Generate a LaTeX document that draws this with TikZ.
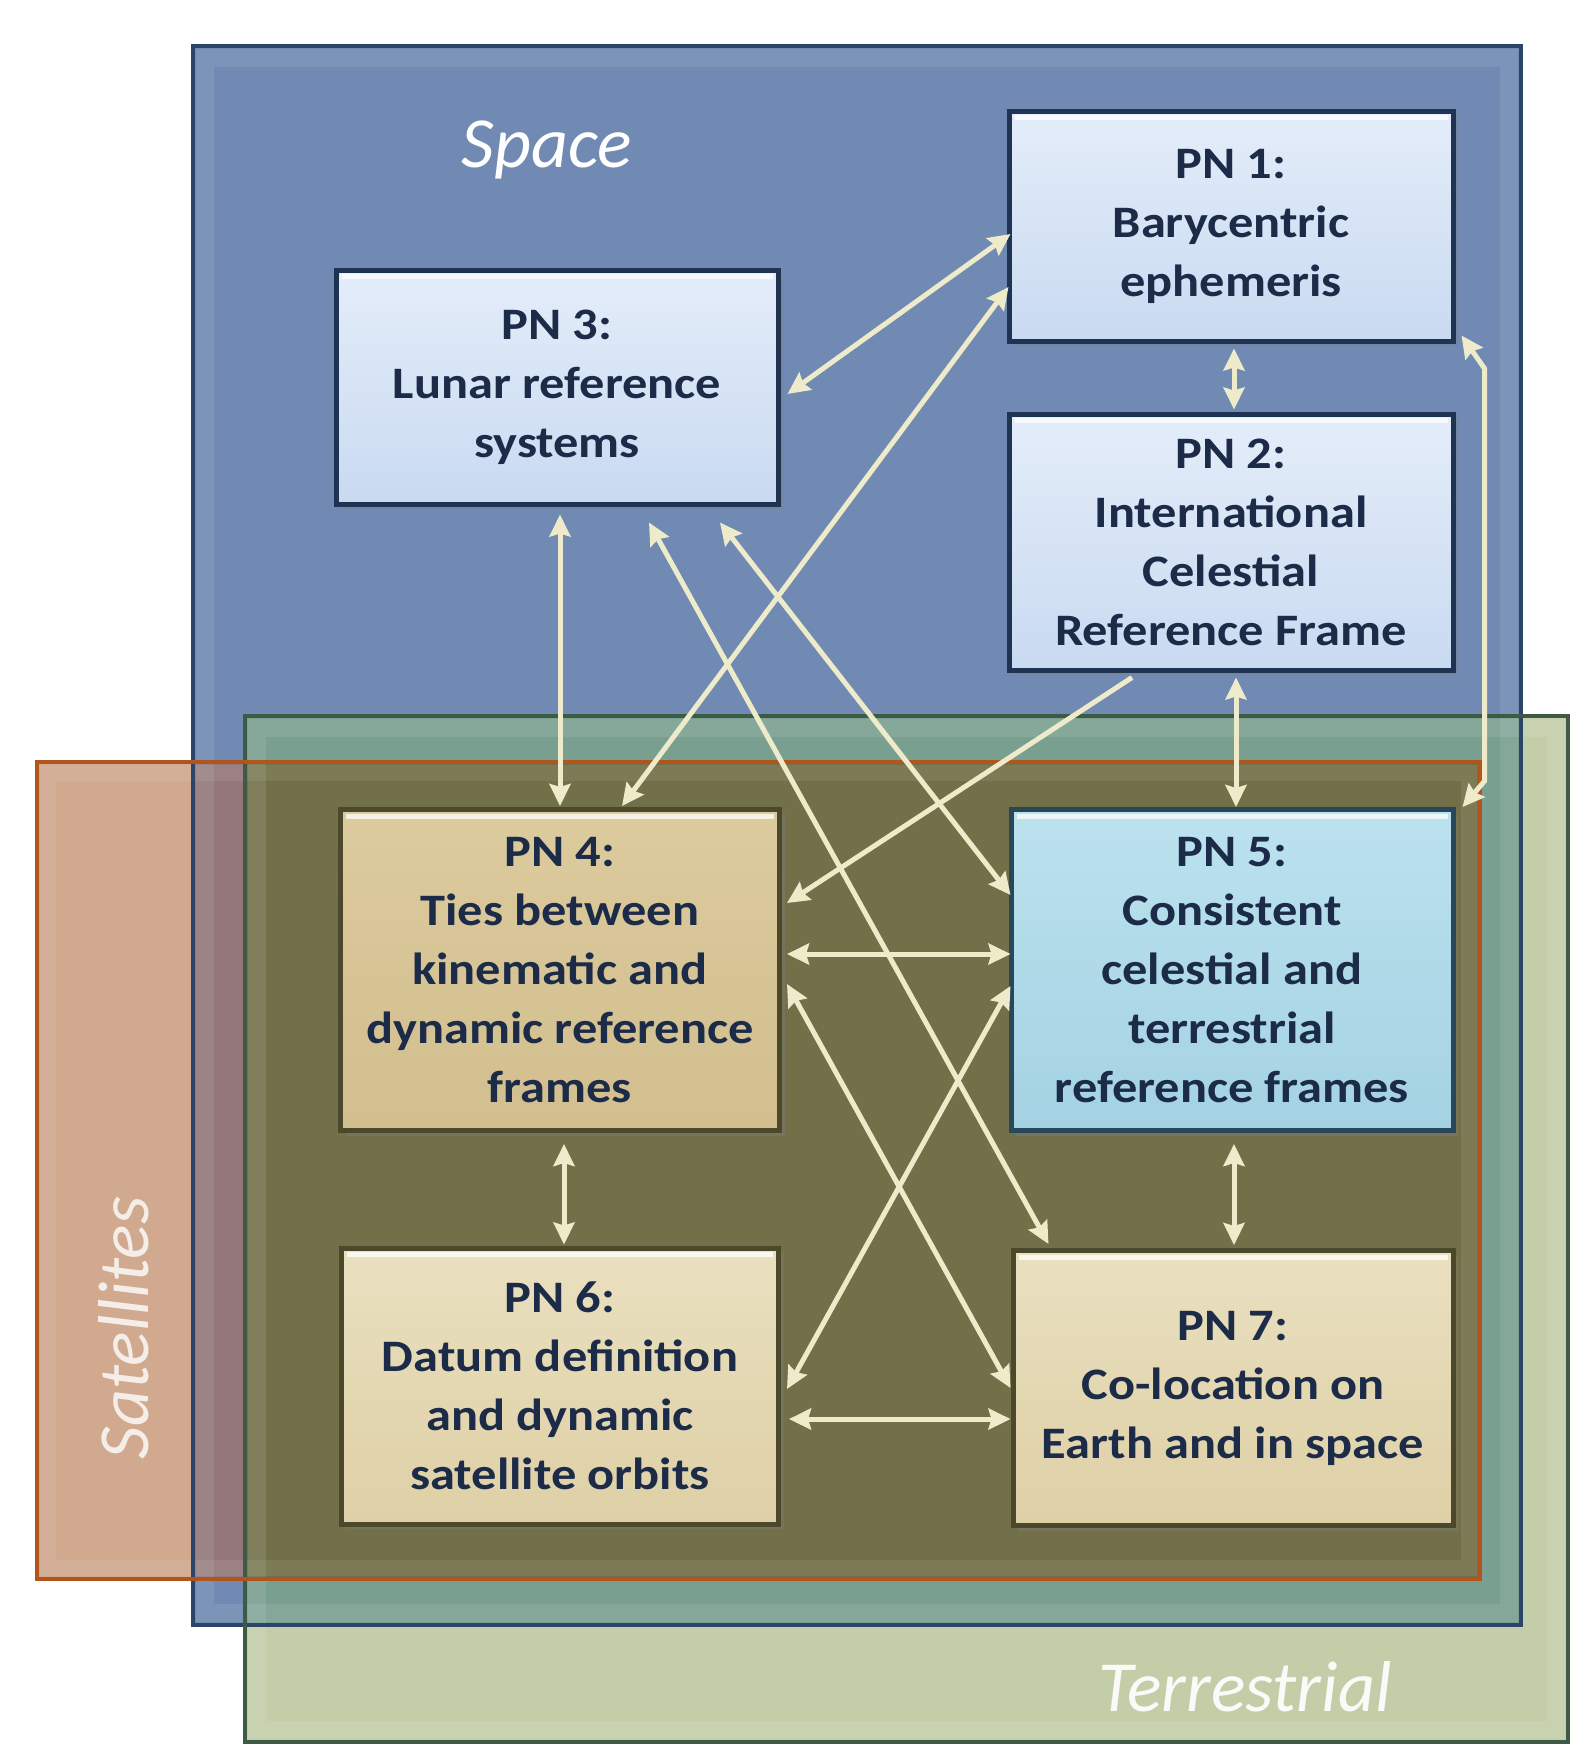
\documentclass[tikz,border=0pt]{standalone}
\usepackage{fontspec}
\setmainfont{Carlito}
\newfontfamily\pnfont{Carlito}[FakeStretch=1.12]
\usetikzlibrary{arrows.meta,shadows}
\definecolor{spaceblue}{HTML}{718AB3}
\definecolor{spaceedge}{HTML}{2B4468}
\definecolor{terrlight}{HTML}{C3CDA8}
\definecolor{terredge}{HTML}{3E5A44}
\definecolor{spaceterr}{HTML}{789F90}
\definecolor{sattan}{HTML}{D0A98F}
\definecolor{satedge}{HTML}{B0561C}
\definecolor{satspace}{HTML}{93777A}
\definecolor{oliveall}{HTML}{727048}
\definecolor{blueboxtop}{HTML}{E4EDFA}
\definecolor{blueboxbot}{HTML}{C9DAF0}
\definecolor{blueboxedge}{HTML}{1F3452}
\definecolor{tantop}{HTML}{DCCB9E}
\definecolor{tanbot}{HTML}{D2BE8E}
\definecolor{tanlighttop}{HTML}{EAE0C0}
\definecolor{tanlightbot}{HTML}{DED0A6}
\definecolor{tanedge}{HTML}{4B482B}
\definecolor{cyantop}{HTML}{BCE2EE}
\definecolor{cyanbot}{HTML}{A4D2E2}
\definecolor{cyanedge}{HTML}{29475A}
\definecolor{textnavy}{HTML}{1B2B48}
\definecolor{arrowcream}{HTML}{EEEBCB}
\tikzset{
  pnbox/.style={line width=5pt, align=center, text=textnavy,
    font=\pnfont\fontsize{45}{59}\selectfont\bfseries, inner sep=0pt,
    drop shadow={shadow xshift=5pt, shadow yshift=-5pt, opacity=.35}},
  bluepn/.style={pnbox, draw=blueboxedge, top color=blueboxtop, bottom color=blueboxbot},
  tanpn/.style={pnbox, draw=tanedge, top color=tantop, bottom color=tanbot},
  tanlightpn/.style={pnbox, draw=tanedge, top color=tanlighttop, bottom color=tanlightbot},
  cyanpn/.style={pnbox, draw=cyanedge, top color=cyantop, bottom color=cyanbot},
  regionlabel/.style={font=\fontsize{72}{80}\selectfont\itshape, inner sep=0pt},
  link/.style={draw=arrowcream, line width=5pt,
    {Stealth[length=22pt,width=21pt,inset=3pt]}-{Stealth[length=22pt,width=21pt,inset=3pt]}},
  onelink/.style={draw=arrowcream, line width=5pt,
    -{Stealth[length=22pt,width=21pt,inset=3pt]}},
  boxshine/.style={draw=white, opacity=.75, line width=5pt}
}
\begin{document}
\begin{tikzpicture}[x=1pt,y=-1pt]
\useasboundingbox[fill=white] (0,0) rectangle (1573,1746);
% regions
\fill[spaceblue] (193,46) rectangle (1521,1625);
\fill[terrlight] (245,716) rectangle (1568,1742);
\fill[spaceterr] (245,716) rectangle (1521,1625);
\fill[sattan] (37,762) rectangle (1480,1579);
\fill[satspace] (193,762) rectangle (1480,1579);
\fill[oliveall] (245,762) rectangle (1480,1579);
% bevel highlights
\draw[white, opacity=.09, line width=18pt] (205,58) rectangle (1509,1613);
\draw[white, opacity=.10, line width=18pt] (257,728) rectangle (1556,1730);
\draw[white, opacity=.08, line width=16pt] (48,773) rectangle (1469,1568);
% region borders
\draw[spaceedge, line width=4pt] (193,46) rectangle (1521,1625);
\draw[terredge, line width=4pt] (245,716) rectangle (1568,1742);
\draw[satedge, line width=4pt] (37,762) rectangle (1480,1579);
% region labels
\node[regionlabel, text=white] (spacelbl) at (547,150) {Space};
\node[regionlabel, text=white, opacity=.92] (terrlbl) at (1245,1687) {Terrestrial};
\node[regionlabel, text=white, opacity=.8, rotate=90] (satlbl) at (124,1328) {Satellites};
% boxes
\node[bluepn, minimum width=444pt, minimum height=230pt] (pn1) at (1231,226) {PN 1:\\Barycentric\\ephemeris};
\node[bluepn, minimum width=444pt, minimum height=256pt] (pn2) at (1231,542) {PN 2:\\International\\Celestial\\Reference Frame};
\node[bluepn, minimum width=442pt, minimum height=234pt] (pn3) at (557,387) {PN 3:\\Lunar reference\\systems};
\node[tanpn, minimum width=439pt, minimum height=321pt] (pn4) at (560,970) {PN 4:\\Ties between\\kinematic and\\dynamic reference\\frames};
\node[cyanpn, minimum width=442pt, minimum height=321pt] (pn5) at (1232,970) {PN 5:\\Consistent\\celestial and\\terrestrial\\reference frames};
\node[tanlightpn, minimum width=437pt, minimum height=276pt] (pn6) at (560,1386) {PN 6:\\Datum definition\\and dynamic\\satellite orbits};
\node[tanlightpn, minimum width=440pt, minimum height=275pt] (pn7) at (1233,1388) {PN 7:\\Co-location on\\Earth and in space};
% shine on top of boxes
\foreach \n in {pn1,pn2,pn3,pn4,pn5,pn6,pn7}{
  \draw[boxshine] ([xshift=8pt,yshift=-9pt]\n.north west) -- ([xshift=-8pt,yshift=-9pt]\n.north east);
}
% connectors
\draw[link] ([xshift=7pt,yshift=-7pt]pn3.east) -- ([xshift=4pt,yshift=-8pt]pn1.west);
\draw[link] ([xshift=62pt,yshift=1pt]pn4.north) -- ([xshift=2pt,yshift=-61pt]pn1.west);
\draw[link] ([xshift=3pt,yshift=-5pt]pn1.south) -- ([xshift=3pt,yshift=2pt]pn2.north);
\draw[link] ([xshift=6pt,yshift=8pt]pn1.south east) -- ([xshift=29pt,yshift=-25pt]pn1.south east)
   -- ([xshift=29pt,yshift=26pt]pn5.north east) -- ([xshift=7pt]pn5.north east);
\draw[link] ([xshift=3pt,yshift=-8pt]pn3.south) -- ([yshift=1pt]pn4.north);
\draw[link] ([xshift=92pt,yshift=-16pt]pn3.south) -- ([xshift=38pt,yshift=4pt]pn7.north west);
\draw[link] ([xshift=163pt,yshift=-16pt]pn3.south) -- ([xshift=2pt,yshift=75pt]pn5.west);
\draw[onelink] ([xshift=-99pt,yshift=-5pt]pn2.south) -- ([xshift=5pt,yshift=67pt]pn4.east);
\draw[link] ([xshift=5pt,yshift=-5pt]pn2.south) -- ([xshift=4pt]pn5.north);
\draw[link] ([xshift=5pt,yshift=16pt]pn4.east) -- ([xshift=2pt,yshift=16pt]pn5.west);
\draw[link] ([xshift=5pt,yshift=-14pt]pn4.east) -- (pn7.west);
\draw[link] ([xshift=2pt,yshift=-16pt]pn5.west) -- ([xshift=6pt,yshift=-3pt]pn6.east);
\draw[link] ([xshift=4pt,yshift=-11pt]pn4.south) -- ([xshift=4pt,yshift=1pt]pn6.north);
\draw[link] ([xshift=2pt,yshift=-11pt]pn5.south) -- ([xshift=1pt,yshift=3pt]pn7.north);
\draw[link] ([xshift=8pt,yshift=-33pt]pn6.east) -- ([yshift=-31pt]pn7.west);
\end{tikzpicture}
\end{document}
